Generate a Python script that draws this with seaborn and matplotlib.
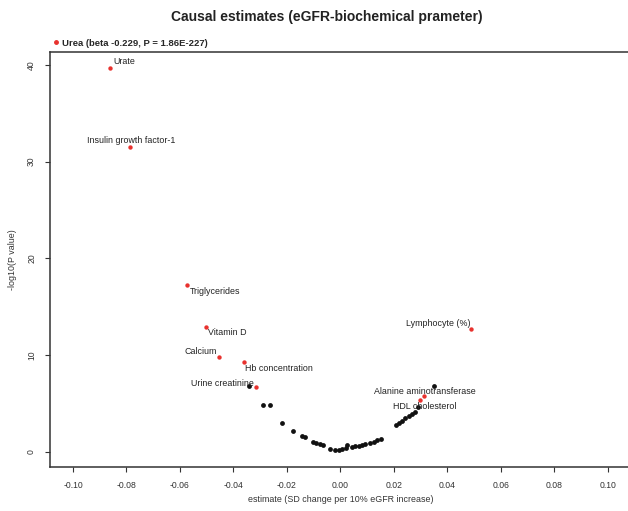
import matplotlib
matplotlib.use("Agg")
import matplotlib.pyplot as plt
import seaborn as sns
import pandas as pd
from matplotlib.lines import Line2D

# non-significant estimates (black points)
other_x = [-0.0343, -0.0290, -0.0264, -0.0220, -0.0178, -0.0145, -0.0132,
           -0.0103, -0.0090, -0.0078, -0.0066, -0.0040, -0.0019, -0.0006,
           0.0006, 0.0019, 0.0025, 0.0044, 0.0056, 0.0069, 0.0081, 0.0093,
           0.0112, 0.0125, 0.0137, 0.0150, 0.0206, 0.0218, 0.0231, 0.0243,
           0.0256, 0.0268, 0.0280, 0.0290, 0.0349]
other_logp = [6.75, 4.84, 4.79, 3.0, 2.17, 1.58, 1.48,
              1.0, 0.9, 0.78, 0.67, 0.28, 0.13, 0.2,
              0.28, 0.38, 0.72, 0.49, 0.55, 0.62, 0.69, 0.76,
              0.9, 1.03, 1.17, 1.31, 2.72, 2.97, 3.21, 3.44,
              3.65, 3.9, 4.1, 4.6, 6.8]

# significant traits (red points with labels)
sig_names = ["Urate", "Insulin growth factor-1", "Triglycerides", "Vitamin D",
             "Calcium", "Hb concentration", "Urine creatinine", "Lymphocyte (%)",
             "Alanine aminotransferase", "HDL cholesterol"]
sig_x = [-0.0860, -0.0785, -0.0573, -0.0502, -0.0455, -0.0359, -0.0314,
         0.0488, 0.0314, 0.0297]
sig_logp = [39.7, 31.5, 17.2, 12.9, 9.8, 9.3, 6.7, 12.7, 5.8, 5.4]

# label placement: offset in points and alignment
label_dx = [2.2, 0.5, 1.7, 1.0, -1.2, 0.7, -2.2, -0.5, 0.0, 3.4]
label_dy = [4.8, 4.8, -4.5, -4.1, 3.6, -4.8, 2.7, 3.8, 3.1, -5.0]
label_ha = ["left", "center", "left", "left", "right", "left", "right",
            "right", "center", "center"]

xticks = [-0.10, -0.08, -0.06, -0.04, -0.02, 0.00, 0.02, 0.04, 0.06, 0.08, 0.10]
yticks = [0, 10, 20, 30, 40]

sns.set_style("white")
plt.rcParams['font.family'] = ['Liberation Sans', 'DejaVu Sans']

red = "#e8322e"
df_other = pd.DataFrame({"x": other_x, "y": other_logp})
df_sig = pd.DataFrame({"x": sig_x, "y": sig_logp, "name": sig_names})

fig = plt.figure(figsize=(6.28, 5.11), dpi=100)
ax = fig.add_axes([0.0796, 0.0855, 0.925, 0.8133])

sns.scatterplot(data=df_other, x="x", y="y", ax=ax, color="#111111", s=12,
                linewidth=0, legend=False)
sns.scatterplot(data=df_sig, x="x", y="y", ax=ax, color=red, s=10,
                linewidth=0, legend=False)

for i, name in enumerate(sig_names):
    ax.annotate(name, (sig_x[i], sig_logp[i]), xytext=(label_dx[i], label_dy[i]),
                textcoords="offset points", ha=label_ha[i], va="center",
                fontsize=6.4, color="#222222")

ax.set_xlim(-0.1086, 0.1086)
ax.set_ylim(-1.61, 41.36)
ax.set_xticks(xticks)
ax.set_xticklabels([f"{t:.2f}" for t in xticks])
ax.set_yticks(yticks)
ax.set_yticklabels([str(t) for t in yticks], rotation=90, va="center")
ax.tick_params(axis="both", which="both", direction="out", length=3.5, width=0.8,
               color="#333333", labelsize=6.2, labelcolor="#333333", pad=6.5,
               bottom=True, left=True)

for side in ["left", "bottom", "top"]:
    ax.spines[side].set_color("#333333")
    ax.spines[side].set_linewidth(1.1)
ax.spines["right"].set_visible(False)

ax.set_xlabel("estimate (SD change per 10% eGFR increase)", fontsize=6.4,
              color="#333333", labelpad=3.5)
ax.set_ylabel("-log10(P value)", fontsize=6.4, color="#333333", labelpad=7)

fig.text(0.521, 1 - 16.5 / 511, "Causal estimates (eGFR-biochemical prameter)",
         ha="center", va="center", fontsize=10, fontweight="bold", color="#222222")

handle = Line2D([], [], marker="o", color=red, linestyle="", markersize=2.5)
ax.legend([handle], ["Urea (beta -0.229, P = 1.86E-227)"], loc="lower left",
          bbox_to_anchor=(0.084, 0.907), bbox_transform=fig.transFigure,
          frameon=False, handlelength=0.6, handletextpad=0.4, borderpad=0,
          borderaxespad=0, prop={"size": 6.8, "weight": "bold"})

fig.savefig("out.png", dpi=100)
